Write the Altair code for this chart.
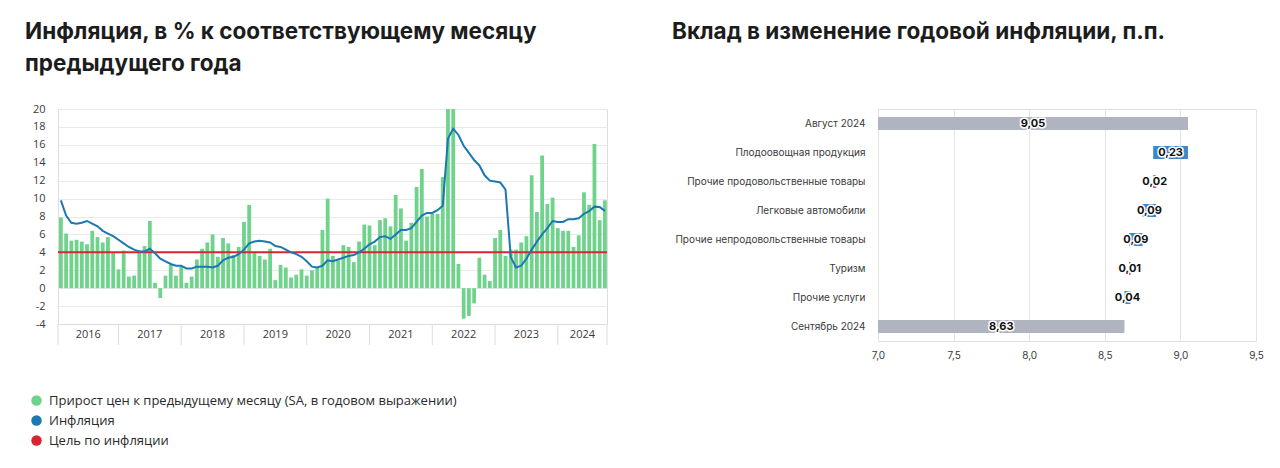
import altair as alt
import pandas as pd

# ---------------------------------------------------------------------------
# Left panel: monthly price growth (SA, annualised) and y/y inflation, %
# ---------------------------------------------------------------------------
mom_2016 = [7.9, 6.1, 5.3, 5.4, 5.2, 4.9, 6.4, 5.7, 5.1, 5.7, 4.0, 2.1]
mom_2017 = [4.2, 1.3, 1.4, 4.2, 4.7, 7.5, 0.6, -1.1, 1.4, 2.6, 1.4, 2.4]
mom_2018 = [0.6, 1.3, 3.2, 4.4, 5.1, 6.0, 3.5, 5.6, 5.0, 3.7, 4.6, 7.4]
mom_2019 = [9.3, 4.0, 3.6, 3.2, 4.4, 0.9, 2.6, 2.3, 1.2, 1.5, 2.1, 1.4]
mom_2020 = [2.0, 2.3, 6.5, 10.0, 3.6, 3.1, 4.8, 4.6, 2.9, 5.2, 7.1, 7.0]
mom_2021 = [4.8, 7.6, 7.8, 6.9, 10.4, 8.9, 5.3, 7.3, 11.3, 13.3, 8.0, 8.3]
mom_2022 = [8.3, 12.4, 136.0, 21.5, 2.7, -3.4, -3.1, -1.7, 3.4, 1.5, 0.8, 5.6]
mom_2023 = [6.5, 3.6, 4.3, 4.3, 5.1, 5.8, 12.6, 8.5, 14.8, 9.4, 10.1, 6.7]
mom_2024 = [6.4, 6.4, 4.6, 5.9, 10.7, 9.3, 16.1, 7.6, 9.8]

yoy_2016 = [9.8, 8.1, 7.3, 7.2, 7.3, 7.5, 7.2, 6.9, 6.4, 6.1, 5.8, 5.4]
yoy_2017 = [5.0, 4.6, 4.3, 4.1, 4.1, 4.4, 3.9, 3.3, 3.0, 2.7, 2.5, 2.5]
yoy_2018 = [2.2, 2.2, 2.4, 2.4, 2.4, 2.3, 2.5, 3.1, 3.4, 3.5, 3.8, 4.3]
yoy_2019 = [5.0, 5.2, 5.3, 5.2, 5.1, 4.7, 4.6, 4.3, 4.0, 3.8, 3.5, 3.0]
yoy_2020 = [2.4, 2.3, 2.5, 3.1, 3.0, 3.2, 3.4, 3.6, 3.7, 4.0, 4.4, 4.9]
yoy_2021 = [5.2, 5.7, 5.8, 5.5, 6.0, 6.5, 6.5, 6.7, 7.4, 8.1, 8.4, 8.4]
yoy_2022 = [8.7, 9.2, 16.7, 17.8, 17.1, 15.9, 15.1, 14.3, 13.7, 12.6, 12.0, 11.9]
yoy_2023 = [11.8, 11.0, 3.5, 2.3, 2.5, 3.3, 4.3, 5.2, 6.0, 6.7, 7.5, 7.4]
yoy_2024 = [7.4, 7.7, 7.7, 7.8, 8.3, 8.6, 9.1, 9.05, 8.63]

years = ["2016", "2017", "2018", "2019", "2020", "2021", "2022", "2023", "2024"]
target = 4.0

legend_labels = [
    "Прирост цен к предыдущему месяцу (SA, в годовом выражении)",
    "Инфляция",
    "Цель по инфляции",
]

# ---------------------------------------------------------------------------
# Right panel: contributions to the change in annual inflation, p.p.
# ---------------------------------------------------------------------------
contrib_labels = [
    "Август 2024",
    "Плодоовощная продукция",
    "Прочие продовольственные товары",
    "Легковые автомобили",
    "Прочие непродовольственные товары",
    "Туризм",
    "Прочие услуги",
    "Сентябрь 2024",
]
contrib_values = [9.05, -0.23, 0.02, -0.09, -0.09, 0.01, -0.04, 8.63]

GREEN = "#6fd38c"
BLUE = "#1b78b2"
RED = "#d9242f"
GRAY_BAR = "#b0b4c0"
DOWN = "#3d87c7"
UP = "#d8434f"
GRID = "#e9e9e9"
TEXT = "#3a3a3a"

TITLE_FONT = "Inter"
BODY_FONT = "Open Sans"
TITLE_SIZE = 22.5

# ---------------------------------------------------------------------------
# Left panel
# ---------------------------------------------------------------------------
mom = mom_2016 + mom_2017 + mom_2018 + mom_2019 + mom_2020 + mom_2021 + mom_2022 + mom_2023 + mom_2024
yoy = yoy_2016 + yoy_2017 + yoy_2018 + yoy_2019 + yoy_2020 + yoy_2021 + yoy_2022 + yoy_2023 + yoy_2024
n = len(mom)
monthly = pd.DataFrame({"i": range(n), "mom": mom, "yoy": yoy})

x_lo, x_hi = -0.55, n - 0.6
LW, LH = 549, 215

# year separators sit on each December, labels centred between them
edges = [x_lo] + [12 * k + 11 for k in range(len(years) - 1)] + [x_hi]
sep_df = pd.DataFrame({"pos": edges})
year_df = pd.DataFrame({
    "pos": [(edges[k] + edges[k + 1]) / 2 for k in range(len(years))],
    "year": years,
})

x_scale = alt.Scale(domain=[x_lo, x_hi], nice=False, zero=False, padding=0)
y_scale = alt.Scale(domain=[-4, 20], nice=False, padding=0)
x_axis = alt.Axis(title=None, labels=False, ticks=False, grid=False,
                  domain=True, domainColor="#dcdcdc")
y_axis = alt.Axis(title=None, values=list(range(-4, 21, 2)), grid=True,
                  gridColor=GRID, domain=False, ticks=False, labelPadding=13,
                  labelFontSize=11, labelColor=TEXT, labelFont=BODY_FONT,
                  labelExpr="'' + datum.value")


def X(field):
    return alt.X(field, type="quantitative", scale=x_scale, axis=x_axis)


def Y(field):
    return alt.Y(field, type="quantitative", scale=y_scale, axis=y_axis)


bars = alt.Chart(monthly).mark_bar(size=3.8, color=GREEN, clip=True).encode(
    x=X("i"), y=Y("mom")
)
target_rule = alt.Chart(pd.DataFrame({"target": [target]})).mark_rule(
    color=RED, strokeWidth=2
).encode(y=Y("target"))
yoy_line = alt.Chart(monthly).mark_line(color=BLUE, strokeWidth=2).encode(
    x=X("i"), y=Y("yoy")
)
separators = alt.Chart(sep_df).mark_rule(color="#dcdcdc", strokeWidth=1).encode(
    x=X("pos"), y=alt.value(LH), y2=alt.value(LH + 21)
)
year_text = alt.Chart(year_df).mark_text(
    fontSize=11, color=TEXT, font=BODY_FONT, baseline="middle"
).encode(x=X("pos"), y=alt.value(LH + 11), text="year:N")

legend_pts = alt.Chart(pd.DataFrame({"label": legend_labels})).mark_point(
    filled=True, opacity=0
).encode(
    x=alt.value(0),
    y=alt.value(0),
    color=alt.Color(
        "label:N",
        scale=alt.Scale(domain=legend_labels, range=[GREEN, BLUE, RED]),
        legend=alt.Legend(
            title=None, orient="none", legendX=-28, legendY=285,
            direction="vertical", symbolType="circle", symbolSize=110,
            symbolOpacity=1, symbolStrokeWidth=0, labelFontSize=13,
            labelColor="#2a2a2a", labelFont=BODY_FONT, labelOffset=6,
            rowPadding=6, labelLimit=600,
        ),
    ),
)

left = alt.layer(bars, target_rule, yoy_line, separators, year_text, legend_pts).properties(
    width=LW,
    height=LH,
    title=alt.Title(
        ["Инфляция, в % к соответствующему месяцу", "предыдущего года"],
        anchor="start", frame="group", dx=-33, offset=28,
        fontSize=TITLE_SIZE, font=TITLE_FONT, fontWeight=700, color="#1c1c1c",
        lineHeight=32,
    ),
)

# ---------------------------------------------------------------------------
# Right panel: waterfall
# ---------------------------------------------------------------------------
X_MIN, X_MAX = 7.0, 9.5
starts, ends, kinds = [], [], []
level = 0.0
last = len(contrib_values) - 1
for k, v in enumerate(contrib_values):
    if k == 0 or k == last:
        starts.append(0.0)
        ends.append(v)
        kinds.append("total")
        level = v
    else:
        starts.append(level)
        level = round(level + v, 4)
        ends.append(level)
        kinds.append("up" if v > 0 else "down")

wf = pd.DataFrame({
    "cat": contrib_labels, "val": contrib_values,
    "start": starts, "end": ends, "kind": kinds,
})

RW, RH = 378, 232
wx_scale = alt.Scale(domain=[X_MIN, X_MAX], nice=False, zero=False, padding=0)
wx_axis = alt.Axis(
    title=None, values=[7.0, 7.5, 8.0, 8.5, 9.0, 9.5], grid=True, gridColor="#e4e4e4",
    domain=False, ticks=False, labelPadding=9, labelFontSize=10, labelColor=TEXT,
    labelFont=TITLE_FONT, labelFlush=False,
    labelExpr="replace(format(datum.value, '.1f'), '.', ',')",
)
wy = alt.Y(
    "cat:N", sort=contrib_labels,
    scale=alt.Scale(paddingInner=0, paddingOuter=0),
    axis=alt.Axis(title=None, ticks=False, domain=False, labelPadding=13,
                  labelFontSize=10, labelColor=TEXT, labelFont=TITLE_FONT,
                  labelLimit=400),
)

wbase = alt.Chart(wf)
wbars = wbase.mark_bar(size=13, clip=True).encode(
    y=wy,
    x=alt.X("start:Q", scale=wx_scale, axis=wx_axis),
    x2="end:Q",
    color=alt.Color("kind:N",
                    scale=alt.Scale(domain=["total", "down", "up"],
                                    range=[GRAY_BAR, DOWN, UP]),
                    legend=None),
)
wlabels = wbase.transform_calculate(
    label="replace(format(abs(datum.val), '.2f'), '.', ',')",
    mid=f"(max(datum.start, {X_MIN}) + datum.end) / 2",
)
halo = wlabels.mark_text(
    fontSize=11, fontWeight="bold", font=TITLE_FONT, color="white",
    stroke="white", strokeWidth=3, strokeJoin="round",
).encode(y=wy, x=alt.X("mid:Q", scale=wx_scale, axis=wx_axis), text="label:N")
wtext = wlabels.mark_text(
    fontSize=11, fontWeight="bold", font=TITLE_FONT, color="#111111",
).encode(y=wy, x=alt.X("mid:Q", scale=wx_scale, axis=wx_axis), text="label:N")

right = alt.layer(wbars, halo, wtext).properties(
    width=RW,
    height=RH,
    title=alt.Title(
        "Вклад в изменение годовой инфляции, п.п.",
        anchor="start", frame="group", dx=-206, offset=66,
        fontSize=TITLE_SIZE, font=TITLE_FONT, fontWeight=700, color="#1c1c1c",
    ),
)

chart = (
    alt.hconcat(left, right, spacing=271, bounds="flush")
    .resolve_scale(color="independent")
    .properties(padding={"left": 24, "top": 20, "right": 8, "bottom": 8})
    .configure_view(stroke=None)
    .configure(background="white")
)

chart.save("out.html", embed_options={"renderer": "svg", "actions": False})
